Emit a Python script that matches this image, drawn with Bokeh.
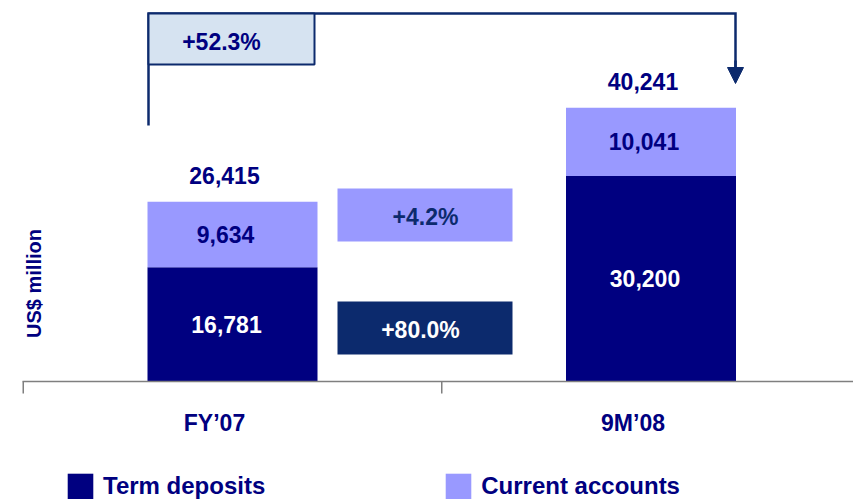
from bokeh.plotting import figure
from bokeh.models import ColumnDataSource, Range1d, Arrow, NormalHead
from bokeh.core.properties import value
from bokeh.embed import file_html
from bokeh.resources import INLINE

# ---- data ----
categories = ["FY\u201907", "9M\u201908"]
series_names = ["Term deposits", "Current accounts"]
term_deposits = [16781, 30200]
current_accounts = [9634, 10041]
totals = [26415, 40241]
growth_term = "+80.0%"
growth_current = "+4.2%"
growth_total = "+52.3%"
y_label = "US$ million"

# ---- style ----
FONT = value("Liberation Sans")
NAVY = "#000080"
LAV = "#9999FF"
DARK = "#0C2A6D"
PALE = "#D6E3F1"
GREY = "#7F7F7F"
FS = "23px"

W, H = 853, 499
# layout helpers: map picture pixel positions to data coordinates (layout only)
CX0, PXU = 232.0, 418.5       # picture x of first category centre, px per category
BASE, UPX = 381.0, 147.0      # picture y of baseline, data units per px
def xd(px):
    return (px - CX0) / PXU
def yd(py):
    return (BASE - py) * UPX

p = figure(width=W, height=H, output_backend="svg", toolbar_location=None,
           x_range=Range1d(xd(0), xd(W)), y_range=Range1d(yd(H), yd(0)),
           x_axis_type=None, y_axis_type=None, min_border=0)
p.grid.visible = False
p.outline_line_color = None
p.background_fill_color = "white"
p.border_fill_color = "white"

xs = list(range(len(categories)))
src = ColumnDataSource(dict(
    x=xs, cat=categories,
    term=term_deposits, current=current_accounts, total=totals,
    term_mid=[t / 2 for t in term_deposits],
    cur_mid=[t + c / 2 for t, c in zip(term_deposits, current_accounts)],
    term_txt=[f"{v:,}" for v in term_deposits],
    cur_txt=[f"{v:,}" for v in current_accounts],
    tot_txt=[f"{v:,}" for v in totals],
    base=[0] * len(categories),
))

BAR_W = 170 / PXU
p.vbar_stack(["term", "current"], x="x", width=BAR_W, color=[NAVY, LAV],
             line_color=None, source=src, legend_label=series_names)

# ---- value labels ----
common = dict(text_font=FONT, text_font_size=FS, text_font_style="bold",
              text_align="center", text_baseline="middle")
p.text(x="x", y="term_mid", text="term_txt", source=src, text_color="white",
       x_offset=-6, **common)
p.text(x="x", y="cur_mid", text="cur_txt", source=src, text_color=NAVY,
       x_offset=-7, **common)
p.text(x="x", y="total", text="tot_txt", source=src, text_color=NAVY,
       x_offset=-8, y_offset=-26, **common)

# ---- baseline axis ----
p.segment(x0=[xd(22)], y0=[0], x1=[xd(W)], y1=[0], line_color=GREY, line_width=1.5)
p.segment(x0=[x - 0.5 for x in xs], y0=[0] * len(xs),
          x1=[x - 0.5 for x in xs], y1=[yd(393)] * len(xs),
          line_color=GREY, line_width=1.5)
p.text(x="x", y="base", text="cat", source=src, text_color=NAVY,
       x_offset=-18, y_offset=41, **common)

# ---- y label ----
p.text(x=[xd(33)], y=[yd(283)], text=[y_label], angle=1.5707963,
       text_color=NAVY, text_font=FONT, text_font_size="20px",
       text_font_style="bold", text_align="center", text_baseline="middle")

# ---- growth boxes ----
p.quad(left=[xd(337)], right=[xd(512)], top=[yd(188)], bottom=[yd(241)],
       fill_color=LAV, line_color=None)
p.text(x=[xd(425)], y=[yd(216)], text=[growth_current], text_color=DARK, **common)
p.quad(left=[xd(337)], right=[xd(512)], top=[yd(301)], bottom=[yd(354)],
       fill_color=DARK, line_color=None)
p.text(x=[xd(420)], y=[yd(329)], text=[growth_term], text_color="white", **common)

# bracket + arrow for total growth
p.line(x=[xd(148), xd(148), xd(735), xd(735)],
       y=[yd(125), yd(13), yd(13), yd(70)],
       line_color=DARK, line_width=2.5, line_join="miter")
p.quad(left=[xd(148)], right=[xd(314)], top=[yd(13)], bottom=[yd(64)],
       fill_color=PALE, line_color=DARK, line_width=2)
p.text(x=[xd(221)], y=[yd(41)], text=[growth_total], text_color=NAVY, **common)
p.add_layout(Arrow(end=NormalHead(size=16, fill_color=DARK, line_color=DARK),
                   line_color=DARK, line_width=2.5,
                   x_start=xd(735), y_start=yd(60), x_end=xd(735), y_end=yd(83)))

# ---- legend ----
lg = p.legend[0]
lg.orientation = "horizontal"
lg.location = (64, -3)
lg.border_line_color = None
lg.background_fill_alpha = 0
lg.padding = 0
lg.margin = 0
lg.glyph_width = 32
lg.glyph_height = 32
lg.label_standoff = 7
lg.spacing = 177
lg.label_text_font = "Liberation Sans"
lg.label_text_font_size = "24px"
lg.label_text_font_style = "bold"
lg.label_text_color = NAVY

open("out.html", "w").write(file_html(p, INLINE))
